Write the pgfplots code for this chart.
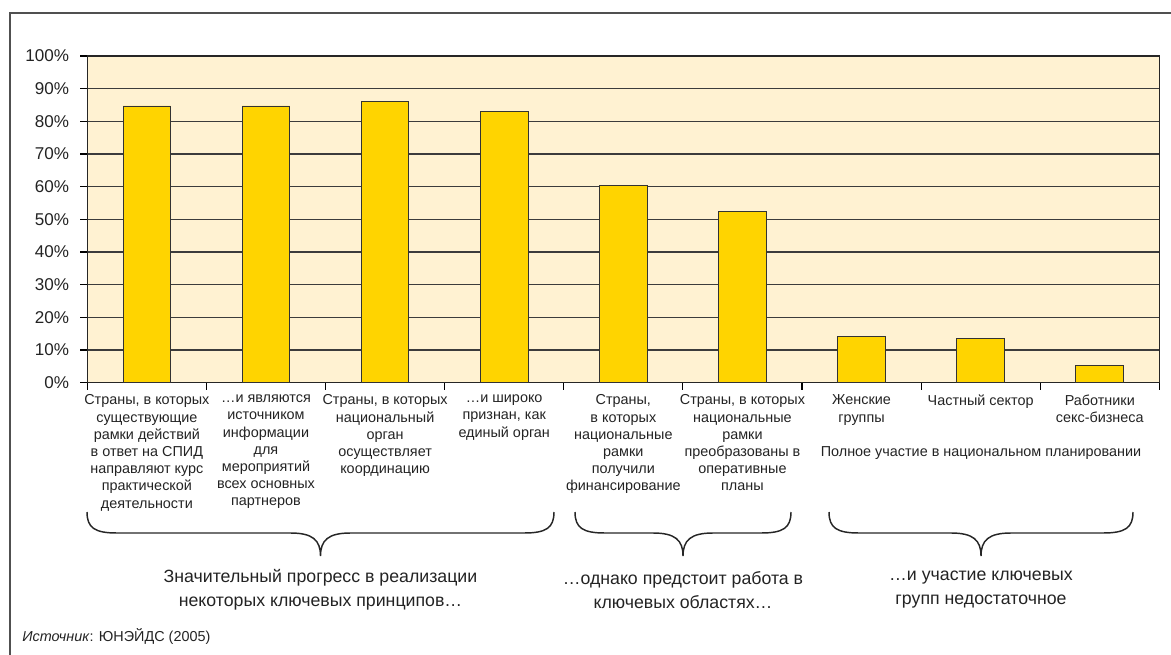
\documentclass[border=0pt]{standalone}
\usepackage{fontspec}
\setmainfont{Liberation Sans}
\usepackage{pgfplots}
\pgfplotsset{compat=1.18}
\definecolor{barc}{RGB}{255,212,0}
\definecolor{bgc}{RGB}{255,242,210}
\definecolor{gridc}{RGB}{60,60,60}
\definecolor{framec}{RGB}{80,80,80}
\definecolor{txt}{RGB}{35,35,35}
\begin{document}
\begin{tikzpicture}
\useasboundingbox (0,0) rectangle (878.25pt,490.5pt);
\begin{axis}[
  at={(65.5pt,203.5pt)}, anchor=south west,
  scale only axis, width=804pt, height=245pt,
  xmin=0, xmax=9, ymin=0, ymax=100,
  axis background/.style={fill=bgc},
  axis line style={line width=1pt, black!85},
  ytick={0,10,...,100},
  yticklabel={\pgfmathprintnumber{\tick}\%},
  /pgf/number format/assume math mode=true,
  yticklabel style={font=\fontsize{12.8}{15}\selectfont, text=txt, xshift=-5pt},
  ymajorgrids, grid style={gridc, line width=0.8pt},
  xtick={0,...,9}, xticklabels={},
  tick align=outside, major tick length=5.25pt,
  xtick pos=bottom, ytick pos=left,
  tick style={black, line width=0.8pt},
  extra x ticks={0.5,1.5,...,8.5},
  extra x tick style={major tick length=0pt, grid=none,
    tick label style={align=center, font=\fontsize{10.8}{12.9}\selectfont, text=txt, inner sep=2pt, yshift=-7pt}},
  extra x tick labels={
    {Страны, в которых\\существующие\\рамки действий\\в ответ на СПИД\\направляют курс\\практической\\деятельности},
    {…и являются\\источником\\информации\\для\\мероприятий\\всех основных\\партнеров},
    {Страны, в которых\\национальный\\орган\\осуществляет\\координацию},
    {…и широко\\признан, как\\единый орган},
    {Страны,\\в которых\\национальные\\рамки\\получили\\финансирование},
    {Страны, в которых\\национальные\\рамки\\преобразованы в\\оперативные\\планы},
    {Женские\\группы},
    {Частный сектор},
    {Работники\\секс-бизнеса}},
  ybar, bar width=0.4,
]
\addplot[fill=barc, draw=black!80, line width=0.7pt] coordinates {
  (0.5,84.7) (1.5,84.7) (2.5,86.0) (3.5,82.9) (4.5,60.3)
  (5.5,52.4) (6.5,14.1) (7.5,13.4) (8.5,5.4)};
\end{axis}
\begin{scope}[x=0.75pt,y=-0.75pt,yshift=490.5pt]
  \draw[framec, line width=1.5pt] (10,670) -- (10,13.3) -- (1190,13.3);
  % braces
  \def\brace#1#2#3{%
    \draw[black!85, line width=1.1pt] (#1,512) .. controls (#1,528) and (#1+8,533) .. (#1+30,533)
      -- (#2-30,533) .. controls (#2-8,533) and (#2,540) .. (#2,556)
      .. controls (#2,540) and (#2+8,533) .. (#2+30,533)
      -- (#3-30,533) .. controls (#3-8,533) and (#3,528) .. (#3,512);}
  \brace{87}{320.5}{554}
  \brace{575}{683}{791}
  \brace{829}{981}{1133}
  \begin{scope}[every node/.style={align=center, text=txt, font=\fontsize{13.3}{18}\selectfont}]
    \node at (320.5,590) {Значительный прогресс в реализации\\некоторых ключевых принципов…};
    \node at (683,590) {…однако предстоит работа в\\ключевых областях…};
    \node at (981,590) {…и участие ключевых\\групп недостаточное};
  \end{scope}
  \node[text=txt, font=\fontsize{10.8}{12.9}\selectfont] at (981,453) {Полное участие в национальном планировании};
  \node[anchor=west, text=txt, font=\fontsize{10.8}{12}\selectfont, inner sep=0pt] at (22,636) {\textit{Источник}: ЮНЭЙДС (2005)};
\end{scope}
\end{tikzpicture}
\end{document}
